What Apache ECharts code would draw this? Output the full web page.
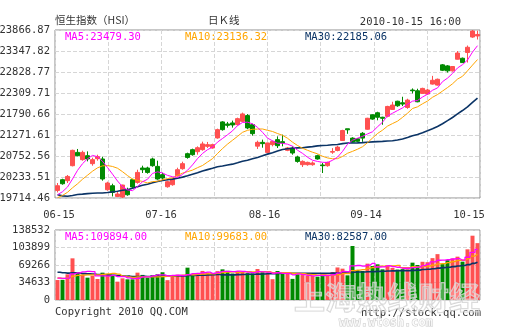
<!DOCTYPE html>
<html>
<head>
<meta charset="utf-8">
<script src="https://cdn.jsdelivr.net/npm/echarts@6/dist/echarts.min.js"></script>
<style>
  html, body { margin: 0; padding: 0; background: #ffffff; }
  #chart { width: 505px; height: 330px; }
</style>
</head>
<body>
<div id="chart"></div>
<script>
// Hang Seng Index daily K-line, 2010-06-15 .. 2010-10-15

const dates = [
  '06-15','06-17','06-18','06-21','06-22','06-23','06-24','06-25','06-28','06-29','06-30',
  '07-02','07-05','07-06','07-07','07-08','07-09','07-12','07-13','07-14','07-15','07-16',
  '07-19','07-20','07-21','07-22','07-23','07-26','07-27','07-28','07-29','07-30',
  '08-02','08-03','08-04','08-05','08-06','08-09','08-10','08-11','08-12','08-13',
  '08-16','08-17','08-18','08-19','08-20','08-23','08-24','08-25','08-26','08-27','08-30','08-31',
  '09-01','09-02','09-03','09-06','09-07','09-08','09-09','09-10','09-13','09-14','09-15',
  '09-16','09-17','09-20','09-21','09-22','09-24','09-27','09-28','09-29','09-30',
  '10-04','10-05','10-06','10-07','10-08','10-11','10-12','10-13','10-14','10-15'
];

const opens = [
  19902, 20167, 20142, 20513, 20842, 20662, 20760, 20563, 20686, 20679,
  19919, 20018, 19753, 19738, 19919, 20167, 20100, 20456, 20456, 20679,
  20496, 20290, 19993, 20043, 20266, 20439, 20810, 20909, 20859, 20909,
  20991, 20951, 21199, 21595, 21545, 21570, 21528, 21609, 21751, 21528,
  20996, 21090, 20842, 21033, 21157, 21107, 20892, 20951, 20728, 20538,
  20538, 20538, 20760, 20530, 20513, 20848, 20888, 21135, 21425, 21195,
  21178, 21314, 21413, 21772, 21821, 21710, 21734, 21903, 22106, 22068,
  21952, 22383, 22365, 22299, 22284, 22530, 22505, 23005, 22980, 22857,
  23144, 23169, 23310, 23693, 23720
];

const closes = [
  20018, 20067, 20248, 20892, 20760, 20842, 20679, 20662, 20736, 20184,
  20085, 19852, 19813, 20035, 19795, 19986, 20347, 20414, 20347, 20513,
  20184, 20208, 20117, 20184, 20414, 20563, 20718, 20785, 20958, 21050,
  21033, 21033, 21404, 21404, 21510, 21520, 21676, 21792, 21446, 21305,
  21090, 21058, 21075, 21114, 21008, 21075, 20951, 20827, 20619, 20619,
  20595, 20580, 20679, 20513, 20595, 20863, 20972, 21383, 21400, 21096,
  21116, 21195, 21685, 21665, 21710, 21685, 21977, 22012, 21994, 22036,
  22135, 22365, 22093, 22423, 22383.6, 22624, 22649, 22872, 22857, 22964.7,
  23298, 23061.5, 23440, 23840, 23757
];

const lows = [
  19852, 20043, 20085, 20496, 20743, 20637, 20620, 20513, 20637, 20142,
  19894, 19753, 19738, 19714.46, 19770, 19944, 20068, 20332, 20315, 20488,
  20167, 20167, 19969, 20018, 20241, 20414, 20686, 20760, 20785, 20884,
  20951, 20934, 21181, 21379, 21454, 21454, 21503, 21590, 21416, 21255,
  20926, 20958, 20827, 20991, 20951, 20991, 20872, 20785, 20587, 20481,
  20513, 20513, 20662, 20332, 20488, 20806, 20868, 21128, 21301, 21079,
  21096, 21103, 21400, 21648, 21635, 21524, 21710, 21895, 21969, 21987,
  21920, 22299, 22081, 22291, 22266, 22518, 22493, 22852, 22815, 22839,
  23137, 23050, 23062, 23674, 23632
];

const highs = [
  20085, 20191, 20283, 20909, 20926, 20884, 20867, 20711, 20785, 20736,
  20117, 20068, 19869, 20043, 19969, 20191, 20414, 20513, 20488, 20711,
  20637, 20340, 20142, 20216, 20463, 20612, 20835, 20934, 20991, 21107,
  21100, 21057, 21429, 21614, 21595, 21627, 21701, 21825, 21788, 21552,
  21132, 21157, 21082, 21132, 21238, 21280, 20976, 20991, 20760, 20644,
  20612, 20619, 20785, 20580, 20612, 20947, 21004, 21400, 21425, 21215,
  21190, 21343, 21697, 21784, 21846, 21722, 21994, 22093, 22118, 22217,
  22168, 22423, 22415, 22440, 22415, 22733, 22666, 23025, 23000, 22976,
  23347, 23186, 23483, 23866.87, 23850
];

const volumes = [
  45180, 45630, 57174, 90870, 61386, 56850, 50154, 54366, 47346, 60684,
  55380, 56120, 41730, 48750, 46644, 46644, 60684, 55940, 50154, 55310,
  57430, 61520, 44870, 55820, 56410, 55150, 71214, 54980, 56990, 64310,
  60940, 59280, 63880, 67704, 64560, 58910, 63970, 62790, 59640, 59120,
  68406, 61710, 61230, 46980, 64240, 61480, 60870, 47610, 57260, 55630,
  54366, 54366, 52260, 57020, 55970, 62105, 71650, 69125, 55085, 116861,
  66317, 64211, 79655, 74741, 78251, 67721, 76145, 70812, 67340, 68102,
  67721, 81761, 76847, 83610, 82720, 91300, 99700, 78700, 87100, 90560,
  94380, 83850, 109824, 138532, 122884
];

// Earlier sessions (05-04 .. 06-14), only used to warm up the moving averages
const priorCloses = [
  20925, 20489, 20295, 20082, 20588, 20308, 20374, 20584, 20082, 19718,
  19451, 19314, 19281, 19404, 18932, 19167, 19406, 19503, 19501, 19236,
  19496, 19471, 19786, 19780, 19702, 19692, 19668, 19900, 19697
];
const priorVolumes = [
  78420, 85130, 73860, 70240, 91750, 68310, 65880, 71090, 72950, 69170,
  79830, 65240, 69910, 62160, 67442, 56230, 50870, 57940, 48160, 50908,
  52310, 46820, 55090, 45870, 49275, 48260, 52870, 47130, 51655
];

const priceTicks = ['19714.46', '20233.51', '20752.56', '21271.61', '21790.66',
                    '22309.71', '22828.77', '23347.82', '23866.87'];
const volumeTicks = ['0', '34633', '69266', '103899', '138532'];
const dateLabels = ['06-15', '07-16', '08-16', '09-14', '10-15'];

function movingAverage(history, values, n) {
  const all = history.concat(values);
  const off = history.length;
  return values.map(function (_, i) {
    let s = 0;
    for (let k = off + i - n + 1; k <= off + i; k++) s += all[k];
    return s / n;
  });
}

const RED = '#ff5050', GREEN = '#008a00';
const MAG = '#ff00ff', ORANGE = '#ffa500', NAVY = '#0b3466';
const MONO = '"DejaVu Sans Mono", "Liberation Mono", monospace';
const CJK = '"Noto Sans CJK SC", sans-serif';
const TEXT = '#333333';

const ohlc = opens.map(function (o, i) { return [o, closes[i], lows[i], highs[i]]; });
const ma5 = movingAverage(priorCloses, closes, 5);
const ma10 = movingAverage(priorCloses, closes, 10);
const ma30 = movingAverage(priorCloses, closes, 30);
const vma5 = movingAverage(priorVolumes, volumes, 5);
const vma10 = movingAverage(priorVolumes, volumes, 10);
const vma30 = movingAverage(priorVolumes, volumes, 30);
const volBars = volumes.map(function (v, i) {
  return { value: v, itemStyle: { color: closes[i] >= opens[i] ? RED : GREEN } };
});
const last = closes.length - 1;

const dashed = { show: true, lineStyle: { color: '#d6d6d6', type: [4, 2], width: 1 } };
const hidden = { axisLine: { show: false }, axisTick: { show: false } };

function lineSeries(data, color, width, xi, yi, step) {
  return {
    type: 'line', data: data, xAxisIndex: xi, yAxisIndex: yi,
    symbol: 'none', step: step || false, silent: true,
    lineStyle: { color: color, width: width }, z: 4
  };
}

function label(x, y, text, color, font, align) {
  return {
    type: 'text', x: x, y: y, silent: true, z: 10,
    style: { text: text, fill: color, font: font, align: align || 'left', verticalAlign: 'middle' }
  };
}

const chart = echarts.init(document.getElementById('chart'), null, { renderer: 'canvas' });
chart.setOption({
  animation: false,
  backgroundColor: '#ffffff',
  grid: [
    { left: 55, top: 30, width: 425, height: 168, show: true, borderColor: '#8e8e8e', borderWidth: 1, outerBoundsMode: 'none' },
    { left: 55, top: 230, width: 425, height: 70, show: true, borderColor: '#8e8e8e', borderWidth: 1, outerBoundsMode: 'none' }
  ],
  xAxis: [
    {
      type: 'category', gridIndex: 0, data: dates, boundaryGap: true, position: 'bottom',
      axisLine: { show: false }, axisTick: { show: false }, splitLine: { show: false },
      axisLabel: {
        interval: 0, margin: 12, color: TEXT, fontFamily: MONO, fontSize: 10.5,
        formatter: function (v) {
          const k = dateLabels.indexOf(v);
          return k < 0 ? '' : '{d' + k + '|' + v + '}';
        },
        rich: {
          d0: { padding: [0, 0, 0, 3], color: TEXT, fontFamily: MONO, fontSize: 10.5 },
          d1: { padding: [0, 3, 0, 0], color: TEXT, fontFamily: MONO, fontSize: 10.5 },
          d2: { padding: [0, 6, 0, 0], color: TEXT, fontFamily: MONO, fontSize: 10.5 },
          d3: { padding: [0, 13, 0, 0], color: TEXT, fontFamily: MONO, fontSize: 10.5 },
          d4: { padding: [0, 17, 0, 0], color: TEXT, fontFamily: MONO, fontSize: 10.5 }
        }
      }
    },
    Object.assign({ type: 'value', gridIndex: 0, min: 0, max: 8, interval: 1, position: 'top',
      axisLabel: { show: false }, splitLine: dashed }, hidden),
    { type: 'category', gridIndex: 1, data: dates, boundaryGap: true, position: 'bottom', show: false },
    Object.assign({ type: 'value', gridIndex: 1, min: 0, max: 8, interval: 1, position: 'top',
      axisLabel: { show: false }, splitLine: dashed }, hidden)
  ],
  yAxis: [
    { type: 'value', gridIndex: 0, position: 'right', min: Math.min.apply(null, lows), max: Math.max.apply(null, highs), show: false },
    Object.assign({ type: 'value', gridIndex: 0, position: 'left', min: 0, max: priceTicks.length - 1, interval: 1,
      axisLabel: { margin: 5, color: TEXT, fontFamily: MONO, fontSize: 10.5,
        formatter: function (v) { return priceTicks[v]; } },
      splitLine: dashed }, hidden),
    { type: 'value', gridIndex: 1, position: 'right', min: 3120, max: 150540, show: false },
    Object.assign({ type: 'value', gridIndex: 1, position: 'left', min: 0, max: volumeTicks.length - 1, interval: 1,
      axisLabel: { margin: 5, color: TEXT, fontFamily: MONO, fontSize: 10.5,
        formatter: function (v) { return volumeTicks[v]; } },
      splitLine: dashed }, hidden)
  ],
  series: [
    {
      type: 'candlestick', data: ohlc, xAxisIndex: 0, yAxisIndex: 0, barWidth: 4, silent: true, z: 3,
      itemStyle: { color: RED, color0: GREEN, borderColor: RED, borderColor0: GREEN, borderWidth: 1 }
    },
    lineSeries(ma30, NAVY, 1.6, 0, 0),
    lineSeries(ma10, ORANGE, 1, 0, 0),
    lineSeries(ma5, MAG, 1, 0, 0),
    { type: 'bar', data: volBars, xAxisIndex: 2, yAxisIndex: 2, barWidth: 4, silent: true, z: 3 },
    lineSeries(vma30, NAVY, 1.6, 2, 2, 'middle'),
    lineSeries(vma10, ORANGE, 1.3, 2, 2, 'middle'),
    lineSeries(vma5, MAG, 1.3, 2, 2, 'middle')
  ],
  graphic: [
    label(55, 20, '恒生指数（HSI）', TEXT, '10.5px ' + CJK),
    label(208, 20, '日Ｋ线', TEXT, '10.5px ' + CJK),
    label(461, 22, '2010-10-15 16:00', TEXT, '10.5px ' + MONO, 'right'),
    label(65, 37, 'MA5:' + ma5[last].toFixed(2), MAG, '10.5px ' + MONO),
    label(185, 37, 'MA10:' + ma10[last].toFixed(2), ORANGE, '10.5px ' + MONO),
    label(305, 37, 'MA30:' + ma30[last].toFixed(2), NAVY, '10.5px ' + MONO),
    label(65, 237, 'MA5:' + vma5[last].toFixed(2), MAG, '10.5px ' + MONO),
    label(185, 237, 'MA10:' + vma10[last].toFixed(2), ORANGE, '10.5px ' + MONO),
    label(305, 237, 'MA30:' + vma30[last].toFixed(2), NAVY, '10.5px ' + MONO),
    label(55, 312, 'Copyright 2010 QQ.COM', TEXT, '10.5px ' + MONO),
    label(481, 313, 'http://stock.qq.com', TEXT, '10.5px ' + MONO, 'right'),
    {
      type: 'text', x: 387, y: 297, silent: true, z: 20,
      style: { text: '上海热线财经', font: 'bold 31px ' + CJK, align: 'center', verticalAlign: 'middle',
        fill: 'rgba(255,255,255,0.3)', stroke: 'rgba(205,205,205,0.85)', lineWidth: 1.2 }
    },
    {
      type: 'text', x: 386, y: 323, silent: true, z: 20,
      style: { text: 'www.wtosh.com', font: 'bold 12px ' + MONO, align: 'center', verticalAlign: 'middle',
        fill: 'rgba(255,255,255,0.8)', stroke: 'rgba(200,200,200,0.9)', lineWidth: 1 }
    }
  ]
});
</script>
</body>
</html>
